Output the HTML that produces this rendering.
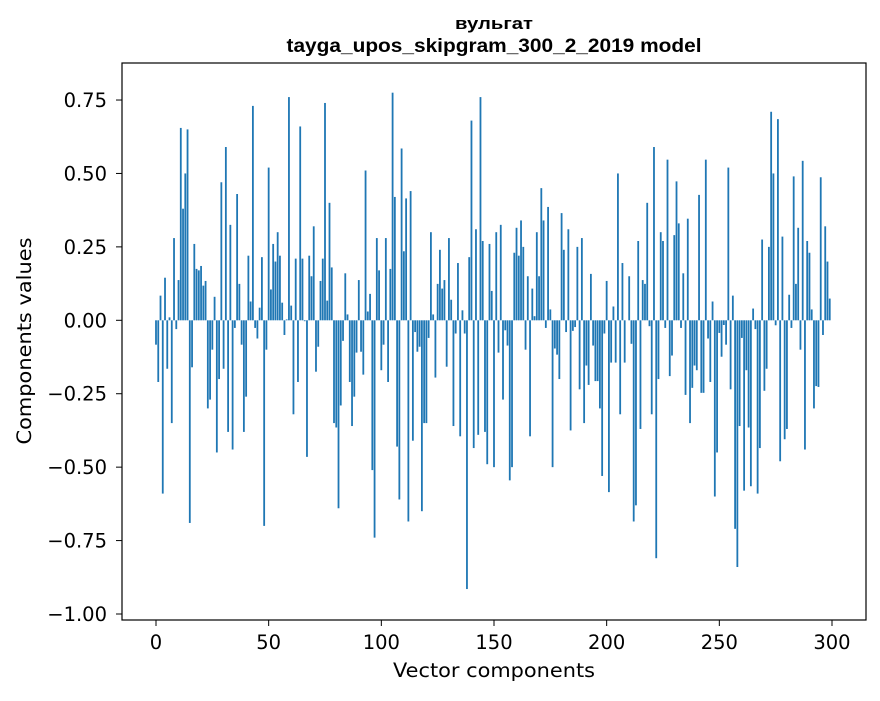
<!DOCTYPE html>
<html><head><meta charset="utf-8">
<style>
body{margin:0;background:#fff;}
svg text{font-family:"DejaVu Sans","Liberation Sans",sans-serif;fill:#000;}
svg text.title{font-family:"Liberation Sans","DejaVu Sans",sans-serif;font-weight:bold;}
</style></head>
<body>
<svg id="chart" width="880" height="696" xmlns="http://www.w3.org/2000/svg">
<rect width="880" height="696" fill="#fff"/>
<text class="title" x="494" y="29" font-size="17" text-anchor="middle" textLength="78" lengthAdjust="spacingAndGlyphs">вульгат</text>
<text class="title" x="494" y="52" font-size="19" text-anchor="middle" textLength="415" lengthAdjust="spacingAndGlyphs">tayga_upos_skipgram_300_2_2019 model</text>
<g id="bars"></g>
<g id="xaxis"></g>
<g id="yaxis"></g>
<rect x="122" y="63" width="744" height="557" fill="none" stroke="#000" stroke-width="1.2"/>
<text x="494" y="677" font-size="19.5" text-anchor="middle" textLength="202" lengthAdjust="spacingAndGlyphs">Vector components</text>
<text transform="translate(31,341) rotate(-90)" font-size="19.5" text-anchor="middle" textLength="207" lengthAdjust="spacingAndGlyphs">Components values</text>
</svg>
<script>
const values = [
-0.083,-0.21,0.084,-0.59,0.145,-0.165,0.01,-0.35,0.28,-0.03,
0.137,0.655,0.38,0.50,0.65,-0.69,-0.16,0.26,0.175,0.17,
0.185,0.118,0.134,-0.30,-0.27,-0.10,0.08,-0.45,-0.20,0.47,
-0.165,0.59,-0.38,0.325,-0.44,-0.026,0.43,0.124,-0.083,-0.38,
-0.26,0.22,0.064,0.73,-0.026,-0.062,0.043,0.215,-0.70,-0.10,
0.52,0.105,0.26,0.20,0.30,0.22,0.06,-0.05,0.003,0.76,
0.05,-0.32,0.21,-0.21,0.66,0.21,-0.003,-0.465,0.22,0.15,
0.32,-0.175,-0.09,0.134,0.21,0.74,0.067,0.40,0.18,-0.35,
-0.365,-0.64,-0.29,-0.07,0.16,0.02,-0.21,-0.36,-0.26,-0.11,
0.137,-0.107,-0.185,0.51,0.03,0.09,-0.51,-0.74,0.28,0.17,
-0.17,-0.083,0.28,-0.21,0.175,0.775,0.42,-0.43,-0.61,0.585,
0.235,0.415,-0.685,0.44,-0.41,-0.04,-0.107,-0.09,-0.65,-0.35,
-0.35,-0.06,0.30,0.02,-0.195,0.124,0.24,0.108,0.137,-0.158,
0.28,0.07,-0.36,-0.045,0.195,-0.395,0.034,-0.045,-0.915,0.215,
0.68,-0.435,0.31,-0.39,0.76,0.27,-0.38,-0.49,0.26,0.10,
-0.50,0.30,-0.11,0.325,-0.27,-0.034,-0.086,-0.545,-0.50,0.23,
0.315,0.22,0.34,0.25,-0.10,0.15,-0.395,0.108,0.014,0.30,
0.15,0.45,0.34,-0.026,0.386,0.037,-0.50,-0.096,-0.117,-0.20,
0.365,0.24,-0.04,0.31,-0.375,-0.036,-0.023,0.25,-0.235,0.28,
-0.35,-0.154,-0.22,0.158,-0.086,-0.207,-0.207,-0.30,-0.53,-0.045,
0.134,-0.585,-0.144,0.047,-0.144,0.50,-0.32,0.195,-0.144,0.0,
0.15,-0.08,-0.685,-0.63,0.27,-0.37,0.137,0.124,0.40,-0.02,
-0.32,0.59,-0.81,-0.20,0.30,0.27,-0.026,0.547,-0.19,-0.12,
0.29,0.473,0.33,-0.026,0.16,-0.254,0.346,-0.35,-0.23,-0.154,
-0.17,0.427,-0.247,-0.247,0.547,-0.062,-0.21,0.064,-0.60,-0.45,
-0.043,-0.124,-0.016,-0.083,0.52,-0.235,0.084,-0.71,-0.84,-0.36,
-0.06,-0.58,-0.17,-0.365,-0.565,0.04,-0.03,-0.59,-0.435,0.275,
-0.24,-0.165,0.25,0.71,0.50,-0.017,0.685,-0.48,0.285,-0.405,
-0.37,0.087,-0.026,0.49,0.124,0.315,-0.10,0.543,-0.44,0.27,
0.23,0.037,-0.30,-0.224,-0.227,0.487,-0.05,0.32,0.20,0.074
];
const xTicks = [0,50,100,150,200,250,300];
const yTicks = [0.75,0.5,0.25,0,-0.25,-0.5,-0.75,-1.0];
const yTickLabels = ["0.75","0.50","0.25","0.00","\u22120.25","\u22120.50","\u22120.75","\u22121.00"];

const NS = "http://www.w3.org/2000/svg";
function xs(v){ return 156 + (v)*2.2533; }
function ys(v){ return 320.3 - v*293.7; }

const barsG = document.getElementById('bars');
values.forEach((v,i)=>{
  const r = document.createElementNS(NS,'rect');
  const w = 0.8*2.2533;
  r.setAttribute('x', xs(i)-w/2);
  r.setAttribute('y', Math.min(ys(v), ys(0)));
  r.setAttribute('width', w);
  r.setAttribute('height', Math.abs(ys(v)-ys(0)));
  r.setAttribute('fill', '#1f77b4');
  
  
  barsG.appendChild(r);
});

const xg = document.getElementById('xaxis');
xTicks.forEach(t=>{
  const l = document.createElementNS(NS,'line');
  l.setAttribute('x1', xs(t)); l.setAttribute('x2', xs(t));
  l.setAttribute('y1', 620); l.setAttribute('y2', 626);
  l.setAttribute('stroke', '#000');
  
  
  xg.appendChild(l);
  const tx = document.createElementNS(NS,'text');
  tx.setAttribute('x', xs(t)); tx.setAttribute('y', 649);
  tx.setAttribute('font-size', '19.5'); tx.setAttribute('text-anchor', 'middle');
  tx.textContent = String(t);
  
  
  xg.appendChild(tx);
});

const yg = document.getElementById('yaxis');
yTicks.forEach((t,k)=>{
  const l = document.createElementNS(NS,'line');
  l.setAttribute('x1', 116); l.setAttribute('x2', 122);
  l.setAttribute('y1', ys(t)); l.setAttribute('y2', ys(t));
  l.setAttribute('stroke', '#000');
  
  
  yg.appendChild(l);
  const tx = document.createElementNS(NS,'text');
  tx.setAttribute('x', 107); tx.setAttribute('y', ys(t)+7);
  tx.setAttribute('font-size', '19.5'); tx.setAttribute('text-anchor', 'end');
  tx.textContent = yTickLabels[k];
  
  
  yg.appendChild(tx);
});
</script>
</body></html>
